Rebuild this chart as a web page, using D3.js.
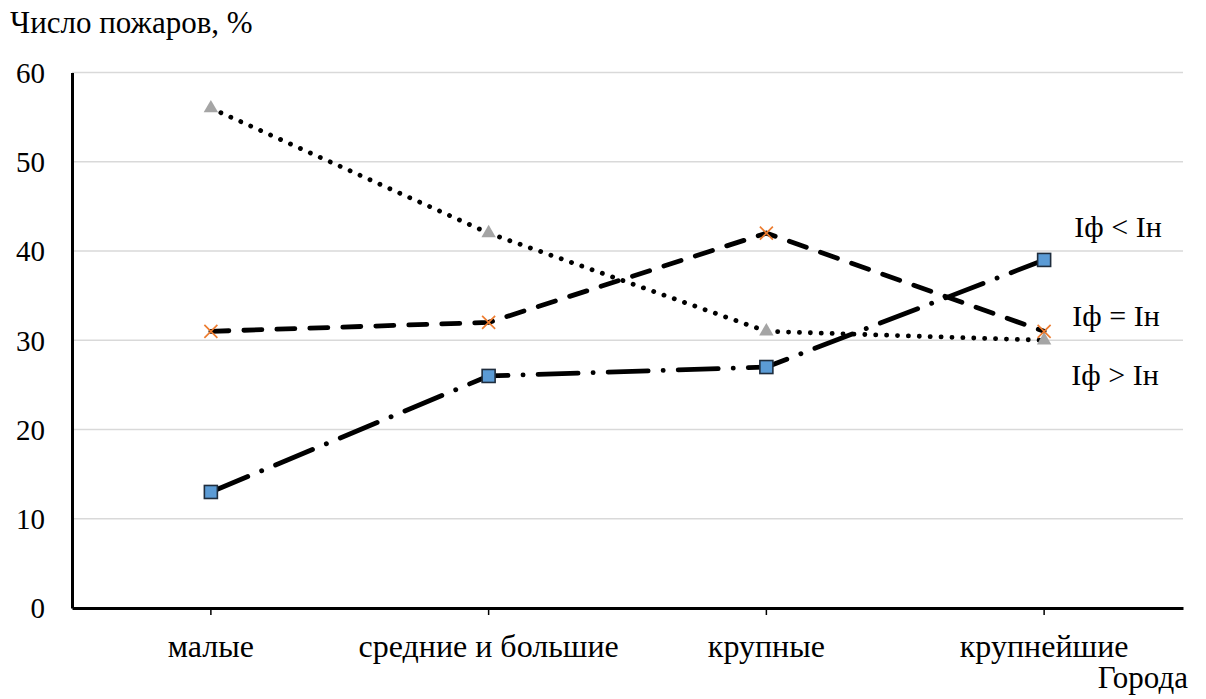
<!DOCTYPE html>
<html>
<head>
<meta charset="utf-8">
<script src="https://cdn.jsdelivr.net/npm/d3@7"></script>
<style>
  html, body { margin: 0; padding: 0; background: #fff; }
  svg { display: block; }
  svg text { font-family: "Liberation Serif", "Times New Roman", serif; fill: #000; }
</style>
</head>
<body>
<svg id="chart" width="1206" height="699"></svg>
<script>
// City groups along the x axis
const categories = ["малые", "средние и большие", "крупные", "крупнейшие"];

// Share of fires (%) by city group
const seriesGreater = [56, 42, 31, 30];   // Iф > Iн
const seriesEqual   = [31, 32, 42, 31];   // Iф = Iн
const seriesLess    = [13, 26, 27, 39];   // Iф < Iн

const yTicks = [0, 10, 20, 30, 40, 50, 60];
const seriesLabels = ["Iф < Iн", "Iф = Iн", "Iф > Iн"];

const svg = d3.select("#chart");
const plotLeft = 72, plotRight = 1183, plotTop = 72.5, plotBottom = 608;

const x = d3.scaleBand().domain(categories).range([plotLeft, plotRight]).padding(0);
const y = d3.scaleLinear().domain([0, 60]).range([plotBottom, plotTop]);
const cx = d => x(d) + x.bandwidth() / 2;

// horizontal gridlines
svg.append("g")
  .selectAll("line")
  .data(yTicks.filter(t => t > 0))
  .join("line")
  .attr("x1", plotLeft).attr("x2", plotRight)
  .attr("y1", d => y(d)).attr("y2", d => y(d))
  .attr("stroke", "#d9d9d9").attr("stroke-width", 1.3);

// y axis
const yAxis = svg.append("g")
  .attr("transform", `translate(${plotLeft},0)`)
  .call(d3.axisLeft(y).tickValues(yTicks).tickSize(0).tickPadding(27));
yAxis.attr("font-family", null).attr("font-size", null);
yAxis.select(".domain").attr("stroke", "#000").attr("stroke-width", 3);
yAxis.selectAll("text").style("font-size", "29px").attr("dy", "0.34em");

// x axis with ticks under each category
const xAxis = svg.append("g")
  .attr("transform", `translate(0,${plotBottom})`)
  .call(d3.axisBottom(x).tickSize(7).tickSizeOuter(0));
xAxis.attr("font-family", null).attr("font-size", null);
xAxis.select(".domain").attr("stroke", "#000").attr("stroke-width", 3);
xAxis.selectAll(".tick line").attr("stroke", "#000").attr("stroke-width", 1.5);
xAxis.selectAll("text").style("font-size", "32px").attr("y", 49).attr("dy", 0);

const line = d3.line().x((d, i) => cx(categories[i])).y(d => y(d));

// lines
svg.append("path").datum(seriesGreater)
  .attr("d", line).attr("fill", "none").attr("stroke", "#000")
  .attr("stroke-width", 4.8).attr("stroke-linecap", "round")
  .attr("stroke-dasharray", "0.1 10.8");

svg.append("path").datum(seriesEqual)
  .attr("d", line).attr("fill", "none").attr("stroke", "#000")
  .attr("stroke-width", 4.8).attr("stroke-linecap", "round")
  .attr("stroke-dasharray", "18 15");

svg.append("path").datum(seriesLess)
  .attr("d", line).attr("fill", "none").attr("stroke", "#000")
  .attr("stroke-width", 4.8).attr("stroke-linecap", "round")
  .attr("stroke-dasharray", "40 15 0.1 15");

// triangle markers
svg.append("g").selectAll("path")
  .data(seriesGreater)
  .join("path")
  .attr("transform", (d, i) => `translate(${cx(categories[i])},${y(d)})`)
  .attr("d", d3.symbol(d3.symbolTriangle, 90))
  .attr("fill", "#a5a5a5");

// cross markers
svg.append("g").selectAll("path")
  .data(seriesEqual)
  .join("path")
  .attr("transform", (d, i) => `translate(${cx(categories[i])},${y(d)})`)
  .attr("d", "M-6.5,-6.5L6.5,6.5M-6.5,6.5L6.5,-6.5")
  .attr("stroke", "#ed7d31").attr("stroke-width", 1.7).attr("fill", "none");

// square markers
svg.append("g").selectAll("rect")
  .data(seriesLess)
  .join("rect")
  .attr("x", (d, i) => cx(categories[i]) - 6.5)
  .attr("y", d => y(d) - 6.5)
  .attr("width", 13).attr("height", 13)
  .attr("fill", "#5b9bd5").attr("stroke", "#1f2d3d").attr("stroke-width", 1.6);

// series annotations
const labelPos = [[1118, 237], [1116, 326], [1115, 385]];
svg.append("g").selectAll("text")
  .data(seriesLabels)
  .join("text")
  .attr("x", (d, i) => labelPos[i][0])
  .attr("y", (d, i) => labelPos[i][1])
  .attr("text-anchor", "middle")
  .style("font-size", "30px")
  .text(d => d);

// axis titles
svg.append("text").attr("x", 10).attr("y", 33)
  .style("font-size", "31px")
  .text("Число пожаров, %");

svg.append("text").attr("x", 1188).attr("y", 688)
  .attr("text-anchor", "end")
  .style("font-size", "31px")
  .text("Города");
</script>
</body>
</html>
